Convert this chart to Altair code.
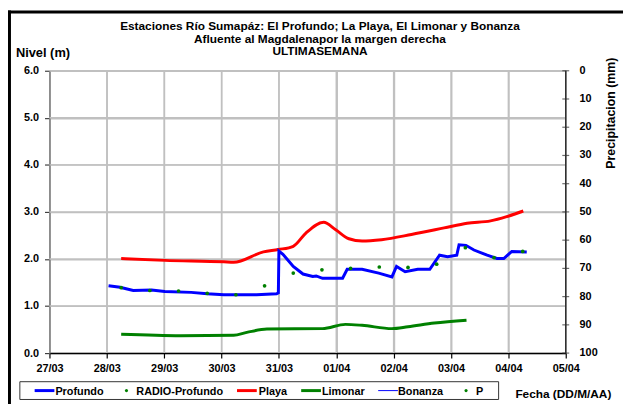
import altair as alt
import pandas as pd

# ---------------- data ----------------
date_labels = ["27/03", "28/03", "29/03", "30/03", "31/03", "01/04", "02/04", "03/04", "04/04", "05/04"]
level_ticks = [0, 1, 2, 3, 4, 5, 6]
precip_ticks = [0, 10, 20, 30, 40, 50, 60, 70, 80, 90, 100]

# days counted from 27/03 00:00
profundo_day = [1.03, 1.23, 1.46, 1.78, 2.01, 2.47, 2.75, 3.04, 3.27, 3.61, 3.96, 3.99, 4.00, 4.07,
                4.25, 4.42, 4.59, 4.65, 4.76, 5.11, 5.19, 5.45, 5.74, 5.97, 6.05, 6.20, 6.42,
                6.63, 6.80, 6.94, 7.10, 7.14, 7.26, 7.40, 7.63, 7.80, 7.92, 8.06, 8.32]
profundo_level = [1.43, 1.40, 1.33, 1.34, 1.31, 1.29, 1.26, 1.24, 1.24, 1.24, 1.26, 1.28, 2.17, 2.10,
                  1.84, 1.68, 1.63, 1.64, 1.59, 1.59, 1.78, 1.78, 1.70, 1.62, 1.84, 1.73, 1.78,
                  1.78, 2.08, 2.05, 2.08, 2.30, 2.29, 2.19, 2.08, 2.01, 2.01, 2.16, 2.15]

playa_day = [1.25, 2.01, 3.04, 3.21, 3.73, 3.99, 4.25, 4.47, 4.78, 4.99, 5.22, 5.45, 5.79,
             6.31, 6.88, 7.28, 7.69, 7.97, 8.26]
playa_level = [2.01, 1.97, 1.94, 1.93, 2.15, 2.20, 2.27, 2.55, 2.78, 2.62, 2.43, 2.38, 2.41,
               2.52, 2.66, 2.76, 2.81, 2.90, 3.02]

limonar_day = [1.25, 2.29, 3.21, 3.44, 3.79, 4.76, 5.16, 5.45, 5.97, 6.25, 6.71, 7.27]
limonar_level = [0.40, 0.37, 0.38, 0.44, 0.51, 0.52, 0.61, 0.59, 0.52, 0.56, 0.64, 0.70]

radio_day = [1.25, 1.75, 2.25, 2.75, 3.25, 3.75, 4.25, 4.75, 5.25, 5.75, 6.25, 6.75, 7.25, 7.75, 8.25]
radio_level = [1.39, 1.33, 1.32, 1.27, 1.24, 1.43, 1.70, 1.77, 1.80, 1.83, 1.82, 1.89, 2.24, 2.03, 2.16]

title_lines = ["Estaciones Río Sumapáz: El Profundo; La Playa, El Limonar y Bonanza",
               "Afluente al Magdalenapor la margen derecha",
               "ULTIMASEMANA"]
y_title = "Nivel (m)"
y2_title = "Precipitacion (mm)"
x_title = "Fecha (DD/M/AA)"

legend_names = ["Profundo", "RADIO-Profundo", "Playa", "Limonar", "Bonanza", "P"]
legend_colors = ["#0000ff", "#008000", "#ff0000", "#008000", "#0000ff", "#008000"]
legend_kinds = ["line", "dot", "line", "line", "thin", "dot"]

# ---------------- layout ----------------
W, H = 523, 286
FONT = "Liberation Sans"
GRID = "#c0c0c0"
legend_sym_x = [-15, 78, 190, 255, 333, 422]
legend_txt_x = [6, 88, 212, 276, 353, 432]
P_MAX = 100.0
LV_MAX = 6.0

one = pd.DataFrame({"a": [0]})

x_scale = alt.Scale(domain=[0, 9], nice=False, zero=False)
y_scale = alt.Scale(domain=[0, 6], nice=False, zero=False)

label_expr = "[" + ",".join("'%s'" % d for d in date_labels) + "][datum.value]"

x_axis = alt.Axis(values=list(range(len(date_labels))), labelExpr=label_expr, title=None,
                  grid=True, gridColor=GRID, gridWidth=1.5, gridOpacity=1,
                  domainColor="#000000", domainWidth=1.5, tickColor="#000000",
                  tickSize=5, tickWidth=1.2, labelPadding=5, labelFont=FONT, labelFontSize=11,
                  labelFontWeight="bold", labelColor="#000000", labelFlush=False)
y_axis = alt.Axis(orient="left", values=level_ticks, format=".1f", title=None,
                  grid=True, gridColor=GRID, gridWidth=1.5, gridOpacity=1,
                  domainColor="#7a7a7a", domainWidth=1.5, tickColor="#404040", tickSize=5,
                  tickWidth=1.2, labelPadding=6, labelFont=FONT, labelFontSize=11,
                  labelFontWeight="bold", labelColor="#000000", labelFlush=False)

series_df = pd.concat([
    pd.DataFrame({"day": profundo_day, "level": profundo_level, "serie": "Profundo"}),
    pd.DataFrame({"day": playa_day, "level": playa_level, "serie": "Playa"}),
    pd.DataFrame({"day": limonar_day, "level": limonar_level, "serie": "Limonar"}),
], ignore_index=True)
df_radio = pd.DataFrame({"day": radio_day, "level": radio_level})
df_p = pd.DataFrame({"p": precip_ticks})
df_vgrid = pd.DataFrame({"day": [float(v) for v in range(1, len(date_labels))]})
df_hgrid = pd.DataFrame({"level": [float(v) for v in level_ticks[1:]]})

X = alt.X("day:Q", scale=x_scale, axis=x_axis)
Y = alt.Y("level:Q", scale=y_scale, axis=y_axis)
color = alt.Color("serie:N", scale=alt.Scale(domain=["Profundo", "Playa", "Limonar"],
                                             range=["#0000ff", "#ff0000", "#008000"]), legend=None)

vgrid = alt.Chart(df_vgrid).mark_rule(color=GRID, strokeWidth=1.5).encode(x=X)
hgrid = alt.Chart(df_hgrid).mark_rule(color=GRID, strokeWidth=1.5).encode(y=Y)
smooth = alt.Chart(series_df).transform_filter("datum.serie != 'Profundo'").mark_line(
    strokeWidth=3, interpolate="monotone").encode(x=X, y=Y, color=color, detail="serie:N")
prof = alt.Chart(series_df).transform_filter("datum.serie == 'Profundo'").mark_line(
    strokeWidth=3).encode(x=X, y=Y, color=color)
radio = alt.Chart(df_radio).mark_circle(color="#008000", size=14, opacity=1).encode(x=X, y=Y)

# right (precipitation) axis: 0 at top, 100 at bottom, mapped onto the level scale
p_pos = alt.Chart(df_p).transform_calculate(level="%f - datum.p * %f / %f" % (LV_MAX, LV_MAX, P_MAX))
p_ticks = p_pos.mark_tick(orient="horizontal", size=7, thickness=1.2, color="#303030").encode(
    y=Y, x=alt.value(W))
p_labels = p_pos.mark_text(font=FONT, fontSize=11, fontWeight="bold", color="#000000",
                           align="left", baseline="middle").encode(
    y=Y, x=alt.value(W + 14), text="p:Q")
p_domain = alt.Chart(one).mark_rule(color="#303030", strokeWidth=1.5).encode(
    x=alt.value(W), y=alt.value(0), y2=alt.value(H))


def txt(s, x, y, size=11, **kw):
    props = dict(font=FONT, fontSize=size, fontWeight="bold", color="#000000")
    props.update(kw)
    return alt.Chart(one).mark_text(text=s, **props).encode(x=alt.value(x), y=alt.value(y))


frame_top = alt.Chart(one).mark_rule(color="#000000", strokeWidth=3).encode(
    x=alt.value(-42), x2=alt.value(650), y=alt.value(-59.5))
frame_left = alt.Chart(one).mark_rule(color="#000000", strokeWidth=3).encode(
    x=alt.value(-40.5), y=alt.value(-61), y2=alt.value(420))

titles = [txt(t, 274, y, size=12, align="center", baseline="middle")
          for t, y in zip(title_lines, [-45.5, -32.5, -19.5])]
ytitle = txt(y_title, -34, -18, size=13, align="left", baseline="middle")
xtitle = txt(x_title, 472, 328, size=12, align="left", baseline="middle")
y2title = txt(y2_title, 569, 43, size=12.5, align="center", baseline="middle", angle=270)

leg_box = alt.Chart(one).mark_rect(fill="#ffffff", stroke="#333333", strokeWidth=1).encode(
    x=alt.value(-30), x2=alt.value(455), y=alt.value(315), y2=alt.value(333))

deco = [frame_top, frame_left, *titles, ytitle, xtitle, y2title, leg_box]
for name, col, kind, sx, tx in zip(legend_names, legend_colors, legend_kinds, legend_sym_x, legend_txt_x):
    if kind == "dot":
        deco.append(alt.Chart(one).mark_circle(color=col, size=10, opacity=1).encode(
            x=alt.value(sx), y=alt.value(324)))
    else:
        deco.append(alt.Chart(one).mark_rule(color=col, strokeWidth=3 if kind == "line" else 1).encode(
            x=alt.value(sx), x2=alt.value(sx + 20), y=alt.value(324)))
    deco.append(txt(name, tx, 325, size=11, align="left", baseline="middle"))

chart = alt.layer(
    vgrid, hgrid, smooth, prof, radio, p_domain, p_ticks, p_labels, *deco
).properties(
    width=W, height=H,
    background="#ffffff",
    autosize=alt.AutoSizeParams(type="none"),
    padding={"left": 42, "top": 61, "right": 58, "bottom": 49},
).configure_view(stroke=None)

chart.save("out.html", embed_options={"renderer": "svg", "actions": False})
